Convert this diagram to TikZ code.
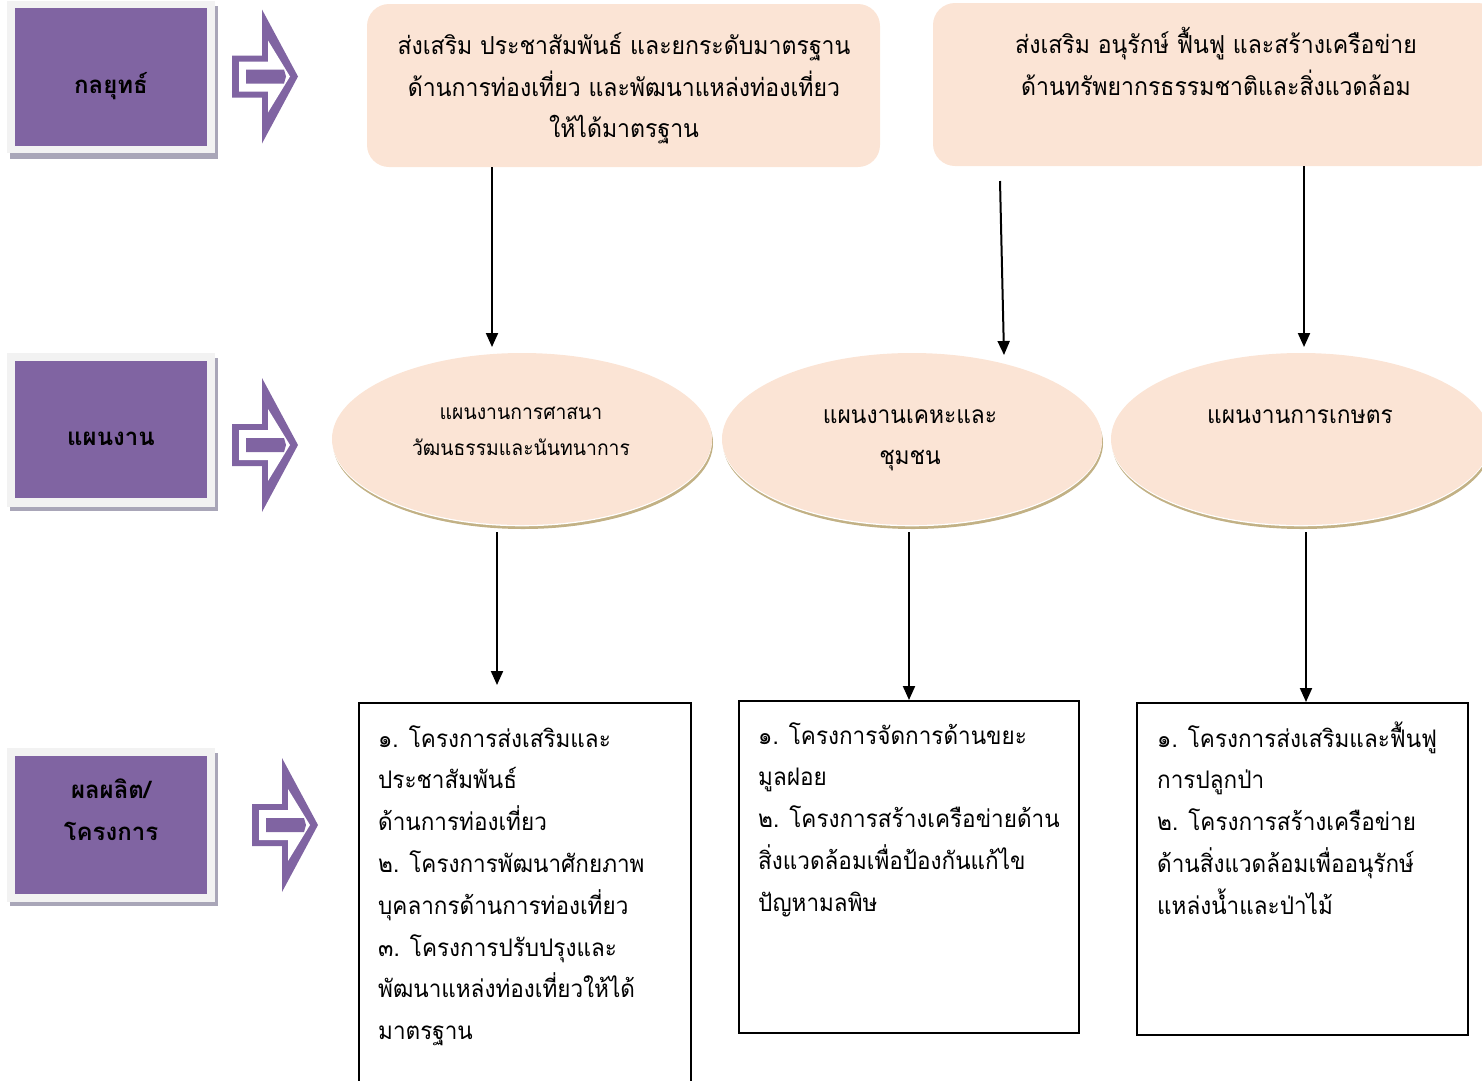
\documentclass[tikz,border=0pt]{standalone}
\usepackage{fontspec}
\setmainfont[Script=Thai]{Loma}
\newfontfamily\narrowthai[Script=Thai, FakeStretch=0.93]{Loma}
\usetikzlibrary{shapes.geometric,arrows.meta}
\definecolor{purp}{HTML}{8064A2}
\definecolor{peach}{HTML}{FBE4D5}
\definecolor{rim}{HTML}{C2B185}
\definecolor{lgray}{HTML}{F2F2F2}
\definecolor{sgray}{HTML}{A9A6B8}
\tikzset{
  txt/.style={inner sep=0pt, anchor=base west, font=\narrowthai\fontsize{24.2}{30}\selectfont},
  ctxt/.style={inner sep=0pt, anchor=base, font=\narrowthai\fontsize{24.8}{30}\selectfont},
  etxt/.style={inner sep=0pt, anchor=base, font=\narrowthai\fontsize{20.8}{26}\selectfont},
  eetxt/.style={inner sep=0pt, anchor=base, font=\narrowthai\fontsize{24.5}{28}\selectfont},
  ltxt/.style={inner sep=0pt, anchor=base, font=\fontsize{24}{28}\selectfont\bfseries},
  conn/.style={line width=2pt, -{Triangle[length=14pt,width=12pt]}},
  outbox/.style={draw=black, line width=1.8pt, fill=white},
  topbox/.style={fill=peach, rounded corners=22pt, inner sep=0pt},
  plan/.style={ellipse, fill=peach, inner sep=0pt, minimum width=380pt, minimum height=172pt},
  label/.style={fill=purp, inner sep=0pt, minimum width=192pt},
}
\newcommand\blockarrow[2]{%
  \begin{scope}[shift={(#1,#2)}]
    \fill[purp] (0,-21) -- (30,-21) -- (30,-67) -- (66,0) -- (30,67) -- (30,21) -- (0,21) -- cycle;
    \fill[white] (7,-15) -- (36,-15) -- (36,-36) -- (58,0) -- (36,36) -- (36,15) -- (7,15) -- cycle;
    \fill[purp] (14,-7) -- (52,-7) -- (54,0) -- (52,7) -- (14,7) -- cycle;
  \end{scope}}
\newcommand\planrim[2]{%
  \fill[rim] (#1+1,#2+4) ellipse [x radius=190pt, y radius=86pt];
  \fill[white] (#1,#2+1.3) ellipse [x radius=190pt, y radius=86pt];}
\begin{document}
\begin{tikzpicture}[x=1pt,y=-1pt]
\useasboundingbox (0,0) rectangle (1482,1080);
\clip (0,0) rectangle (1482,1080);
% left label boxes
\fill[sgray] (10,6) rectangle (218,159);
\fill[lgray] (7,1) rectangle (215,153);
\node[label, minimum height=138pt] (l1) at (111,77) {};
\node[ltxt] (l1t) at (111,93) {กลยุทธ์};
\fill[sgray] (10,358) rectangle (218,511);
\fill[lgray] (7,353) rectangle (215,507);
\node[label, minimum height=137pt] (l2) at (111,429.5) {};
\node[ltxt] (l2t) at (111,445) {แผนงาน};
\fill[sgray] (10,753) rectangle (218,906);
\fill[lgray] (7,748) rectangle (215,902);
\node[label, minimum height=138pt] (l3) at (111,825) {};
\node[ltxt] (l3a) at (111,798) {ผลผลิต/};
\node[ltxt] (l3b) at (111,840) {โครงการ};
% block arrows
\blockarrow{232}{76.5}
\blockarrow{232}{445}
\blockarrow{252}{825}
% top boxes
\node[topbox, minimum width=513pt, minimum height=163pt] (ta) at (623.5,85.5) {};
\node[ctxt] (ta1) at (624,54) {ส่งเสริม ประชาสัมพันธ์ และยกระดับมาตรฐาน};
\node[ctxt] (ta2) at (624,96) {ด้านการท่องเที่ยว และพัฒนาแหล่งท่องเที่ยว};
\node[ctxt] (ta3) at (624,137) {ให้ได้มาตรฐาน};
\node[topbox, minimum width=567pt, minimum height=163pt] (tb) at (1216.5,84.5) {};
\node[ctxt] (tb1) at (1216,53) {ส่งเสริม อนุรักษ์ ฟื้นฟู และสร้างเครือข่าย};
\node[ctxt] (tb2) at (1216,95) {ด้านทรัพยากรธรรมชาติและสิ่งแวดล้อม};
% plans
\planrim{522}{439}
\planrim{912}{439}
\planrim{1301}{439}
\node[plan] (e1) at (522,439) {};
\node[plan] (e2) at (912,439) {};
\node[plan] (e3) at (1301,439) {};
\node[etxt] (e1a) at (521,419) {แผนงานการศาสนา};
\node[etxt] (e1b) at (521,455) {วัฒนธรรมและนันทนาการ};
\node[eetxt] (e2a) at (910,423) {แผนงานเคหะและ};
\node[eetxt] (e2b) at (910,464) {ชุมชน};
\node[eetxt] (e3a) at (1300,423) {แผนงานการเกษตร};
% output boxes
\node[outbox, anchor=north west, minimum width=332pt, minimum height=390pt] (r1) at (358,702) {};
\node[outbox, anchor=north west, minimum width=340pt, minimum height=332pt] (r2) at (738,700) {};
\node[outbox, anchor=north west, minimum width=331pt, minimum height=332pt] (r3) at (1136,702) {};
\foreach \t [count=\i] in {๑. โครงการส่งเสริมและ, ประชาสัมพันธ์, ด้านการท่องเที่ยว, ๒. โครงการพัฒนาศักยภาพ, บุคลากรด้านการท่องเที่ยว, ๓. โครงการปรับปรุงและ, พัฒนาแหล่งท่องเที่ยวให้ได้, มาตรฐาน}
  \node[txt] (r1-\i) at (378,{747+41.8*(\i-1)}) {\t};
\foreach \t [count=\i] in {๑. โครงการจัดการด้านขยะ, มูลฝอย, ๒. โครงการสร้างเครือข่ายด้าน, สิ่งแวดล้อมเพื่อป้องกันแก้ไข, ปัญหามลพิษ}
  \node[txt] (r2-\i) at (758,{744+41.8*(\i-1)}) {\t};
\foreach \t [count=\i] in {๑. โครงการส่งเสริมและฟื้นฟู, การปลูกป่า, ๒. โครงการสร้างเครือข่าย, ด้านสิ่งแวดล้อมเพื่ออนุรักษ์, แหล่งน้ำและป่าไม้}
  \node[txt] (r3-\i) at (1157,{747+41.8*(\i-1)}) {\t};
% connectors
\coordinate (a1s) at (ta.south -| 492,0);
\coordinate (a1e) at (492,347);
\coordinate (a2s) at (1000,181);
\coordinate (a2e) at (1004,355);
\coordinate (a3s) at (tb.south -| 1304,0);
\coordinate (a3e) at (1304,347);
\draw[conn] (a1s) -- (a1e);
\draw[conn] (a2s) -- (a2e);
\draw[conn] (a3s) -- (a3e);
\coordinate (b1s) at (497,532);
\coordinate (b1e) at (497,685);
\coordinate (b2s) at (909,532);
\coordinate (b3s) at (1306,532);
\draw[conn] (b1s) -- (b1e);
\draw[conn] (b2s) -- (b2s |- r2.north);
\draw[conn] (b3s) -- (b3s |- r3.north);
\end{tikzpicture}
\end{document}
